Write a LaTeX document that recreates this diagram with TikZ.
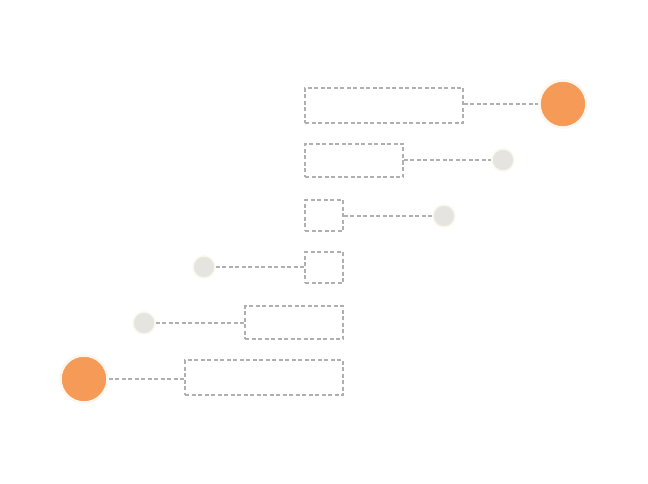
\documentclass[tikz,border=0pt]{standalone}
\begin{document}
\begin{tikzpicture}[x=1pt,y=-1pt,
  box/.style={draw=dashgray,dash pattern=on 4pt off 2.5pt,line width=1.2pt,rectangle,inner sep=0pt},
  conn/.style={draw=dashgray,dash pattern=on 4pt off 2.5pt,line width=1.2pt},
  big/.style={circle,fill=orng,draw=ring,line width=2.5pt,minimum size=47pt,inner sep=0pt},
  small/.style={circle,fill=lgray,draw=ring,line width=1.5pt,minimum size=22pt,inner sep=0pt}]
\definecolor{dashgray}{HTML}{B0B0B0}
\definecolor{orng}{HTML}{F59A57}
\definecolor{lgray}{HTML}{E5E4E0}
\definecolor{ring}{HTML}{FBF7EE}
\useasboundingbox (0,0) rectangle (648,484);
\node[box,minimum width=158pt,minimum height=35pt] (b1) at (384,105.5) {};
\node[box,minimum width=98pt,minimum height=33pt] (b2) at (354,160.5) {};
\node[box,minimum width=38pt,minimum height=31pt] (b3) at (324,215.5) {};
\node[box,minimum width=38pt,minimum height=31pt] (b4) at (324,267.5) {};
\node[box,minimum width=98pt,minimum height=33pt] (b5) at (294,322.5) {};
\node[box,minimum width=158pt,minimum height=35pt] (b6) at (264,377.5) {};
\node[big] (c1) at (563,104) {};
\node[small] (c2) at (503,160) {};
\node[small] (c3) at (444,216) {};
\node[small] (c4) at (204,267) {};
\node[small] (c5) at (144,323) {};
\node[big] (c6) at (84,379) {};
\draw[conn] (b1.east |- c1.west) -- (c1.west);
\draw[conn] (b2.east |- c2.west) -- (c2.west);
\draw[conn] (b3.east |- c3.west) -- (c3.west);
\draw[conn] (c4.east) -- (b4.west |- c4.east);
\draw[conn] (c5.east) -- (b5.west |- c5.east);
\draw[conn] (c6.east) -- (b6.west |- c6.east);
\end{tikzpicture}
\end{document}
